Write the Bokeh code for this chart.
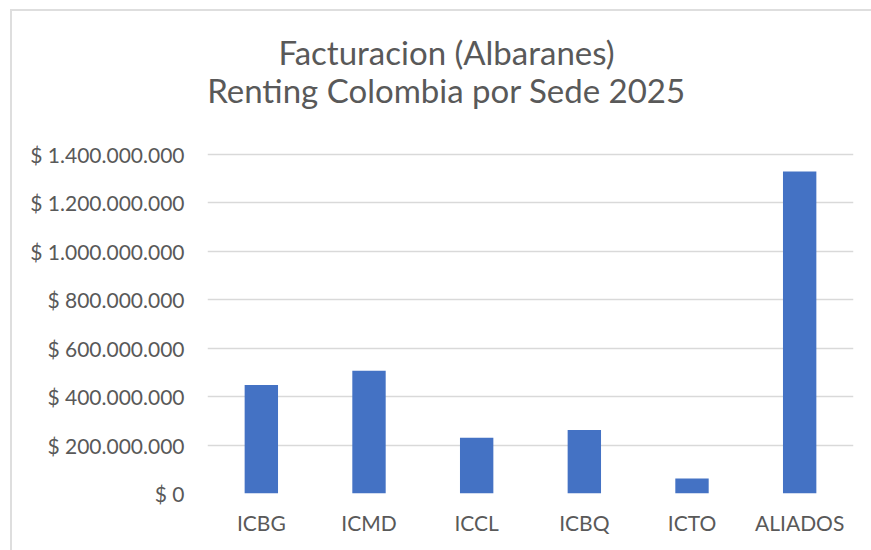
from bokeh.plotting import figure
from bokeh.models import FixedTicker, CustomJSTickFormatter, Label, ColumnDataSource
from bokeh.embed import file_html
from bokeh.resources import INLINE

categories = ["ICBG", "ICMD", "ICCL", "ICBQ", "ICTO", "ALIADOS"]
values = [447_000_000, 506_000_000, 230_000_000, 262_000_000, 62_000_000, 1_328_000_000]
y_ticks = [0, 200_000_000, 400_000_000, 600_000_000, 800_000_000,
           1_000_000_000, 1_200_000_000, 1_400_000_000]
title_lines = ["Facturacion (Albaranes)", "Renting Colombia por Sede 2025"]

FONT = "Lato"
TXT = "#595959"

source = ColumnDataSource(data=dict(cat=categories, val=values))

W, H = 861, 541
BORDER_TOP, BORDER_BOTTOM = 9, 59
# the frame is extended upwards so that the title lies inside it;
# the top tick (1.4e9) should sit 133 px below the frame top
frame_h = (H - 2) - BORDER_TOP - BORDER_BOTTOM
y_top = y_ticks[-1] * frame_h / (frame_h - 133)

p = figure(x_range=categories, y_range=(0, y_top),
           width=W, height=H, output_backend="svg", toolbar_location=None,
           min_border_left=195, min_border_right=20, min_border_top=BORDER_TOP,
           min_border_bottom=BORDER_BOTTOM)
p.styles = {"border-left": "2px solid #dedede", "border-top": "2px solid #dedede",
            "margin-left": "10px", "margin-top": "9px"}

p.vbar(x="cat", top="val", width=0.31, source=source,
       fill_color="#4472C4", line_color=None)

title_y = [442, 403.5]
for line, ty in zip(title_lines, title_y):
    lab = Label(x=239, y=ty, x_units="screen", y_units="screen",
                text=line, text_align="center", text_baseline="alphabetic",
                text_font=FONT, text_font_size="33px", text_color=TXT)
    p.add_layout(lab)

p.outline_line_color = None
p.background_fill_color = "white"
p.border_fill_color = "white"

p.yaxis.ticker = FixedTicker(ticks=y_ticks)
p.yaxis.formatter = CustomJSTickFormatter(code="""
return "$ " + Math.round(tick).toString().replace(/\\B(?=(\\d{3})+(?!\\d))/g, ".");
""")
for ax in (p.xaxis[0], p.yaxis[0]):
    ax.axis_line_color = None
    ax.major_tick_line_color = None
    ax.minor_tick_line_color = None
    ax.major_label_text_font = FONT
    ax.major_label_text_font_size = "21px"
    ax.major_label_text_color = TXT
p.yaxis.major_label_standoff = 17
p.xaxis.major_label_standoff = 10

p.xgrid.grid_line_color = None
p.ygrid.grid_line_color = "#d9d9d9"
p.ygrid.grid_line_width = 1.5
p.ygrid.ticker = FixedTicker(ticks=y_ticks)

open("out.html", "w").write(file_html(p, INLINE))
